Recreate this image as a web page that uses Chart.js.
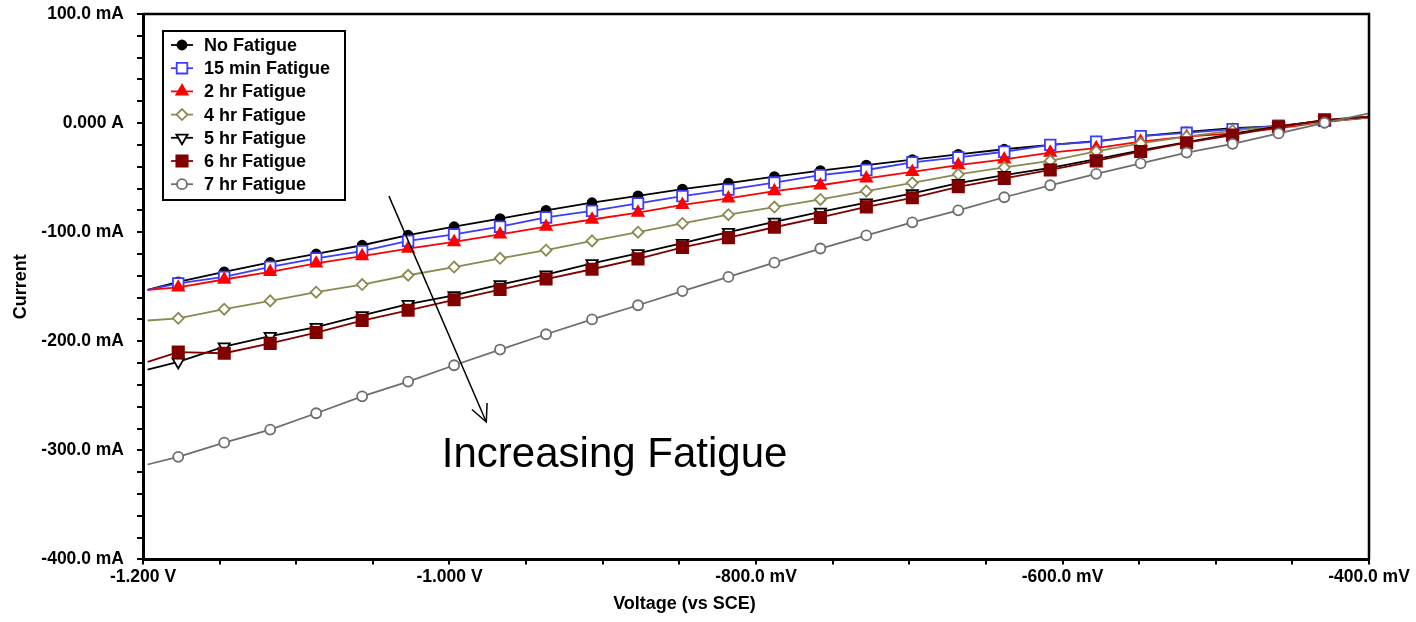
<!DOCTYPE html>
<html>
<head>
<meta charset="utf-8">
<script src="https://cdn.jsdelivr.net/npm/chart.js"></script>
<style>
  body { margin: 0; background: #fff; }
  #wrap { width: 1416px; height: 622px; }
</style>
</head>
<body>
<div id="wrap"><canvas id="chart" width="1416" height="622"></canvas></div>
<script>
// Voltage (V vs SCE) - first/last are the line ends, the rest carry markers
const volts = [-1.197, -1.177, -1.147, -1.117, -1.087, -1.057, -1.027, -0.997, -0.967, -0.937,
  -0.907, -0.877, -0.848, -0.818, -0.788, -0.758, -0.728, -0.698, -0.668, -0.638,
  -0.608, -0.578, -0.549, -0.519, -0.489, -0.459, -0.429, -0.400];

// Current in mA
const noFatigue = [-153, -145.6, -136.4, -127.8, -120, -112, -102.8, -95, -87.5, -80, -73, -66.7, -60.5, -55,
  -49, -43.5, -38.5, -33.5, -28.7, -24, -20, -16.5, -12, -8, -4.6, -2.8, 1.4, 5.5];
const min15Fatigue = [-153, -147, -141, -131.8, -124, -117.4, -108, -102, -95, -86.5, -80.5, -73.7, -67, -61,
  -54.5, -47.7, -43, -36, -31.5, -26.3, -20, -17, -12, -8.9, -5.5, -2.5, 2, 5];
const hr2Fatigue = [-153, -150.7, -143.4, -136.4, -128.7, -122, -115, -109, -102, -95, -88.4, -82, -75, -69,
  -62.4, -57, -50.7, -44.7, -38.5, -33.3, -27, -23, -17, -12.5, -9.5, -4.9, 1.2, 5];
const hr4Fatigue = [-181, -179, -170.6, -163, -155, -148, -139.5, -132, -124, -116.5, -108, -100, -92, -84,
  -77, -70, -62.4, -54.8, -47, -40.6, -34.6, -26, -18.6, -12.5, -7, -3, 1, 5.5];
const hr5Fatigue = [-226, -219, -205, -195.4, -187, -176.4, -166, -158, -148, -139, -128.7, -119.5, -110, -100,
  -90.5, -81.4, -73, -64.5, -55, -47.7, -41, -33, -25, -17.5, -10, -3, 2.5, 6];
const hr6Fatigue = [-219, -210, -211, -202, -192, -181, -171.6, -162, -152.6, -143, -134, -124.5, -114, -105,
  -95.5, -86.5, -76.8, -68.5, -58.4, -50.7, -43, -34.6, -26, -18, -11, -3.4, 3, 6];
const hr7Fatigue = [-313, -306, -293, -281, -266, -250.5, -237, -222, -207.6, -193.6, -180, -167, -154, -141,
  -128, -115, -103, -91, -80, -68, -57, -46.5, -37, -27, -19, -9.5, 0.3, 9];

const seriesLabels = ['No Fatigue', '15 min Fatigue', '2 hr Fatigue', '4 hr Fatigue', '5 hr Fatigue', '6 hr Fatigue', '7 hr Fatigue'];
const seriesValues = [noFatigue, min15Fatigue, hr2Fatigue, hr4Fatigue, hr5Fatigue, hr6Fatigue, hr7Fatigue];

const styles = [
  { color: '#000000', fill: '#000000', point: 'circle', radius: 4.5, rotation: 0 },
  { color: '#3c3cff', fill: '#ffffff', point: 'rect', radius: 7.5, rotation: 0 },
  { color: '#ff0000', fill: '#ff0000', point: 'triangle', radius: 6.5, rotation: 0 },
  { color: '#8a8a50', fill: '#ffffff', point: 'rectRot', radius: 5.5, rotation: 0 },
  { color: '#000000', fill: '#ffffff', point: 'triangle', radius: 6.5, rotation: 180 },
  { color: '#800000', fill: '#800000', point: 'rect', radius: 8, rotation: 0 },
  { color: '#6e6e6e', fill: '#ffffff', point: 'circle', radius: 5, rotation: 0 }
];

const FONT = '"Liberation Sans", Arial, sans-serif';
const lastIdx = volts.length - 1;

const datasets = seriesValues.map((vals, i) => ({
  label: seriesLabels[i],
  data: vals.map((v, j) => ({ x: volts[j], y: v })),
  borderColor: styles[i].color,
  backgroundColor: styles[i].fill,
  borderWidth: 1.8,
  pointStyle: styles[i].point,
  pointRotation: styles[i].rotation,
  pointBorderColor: styles[i].color,
  pointBackgroundColor: styles[i].fill,
  pointBorderWidth: 1.8,
  pointRadius: ctx => (ctx.dataIndex === 0 || ctx.dataIndex === lastIdx) ? 0 : styles[i].radius,
  tension: 0,
  order: 7 - i
}));

function drawMarker(ctx, st, x, y) {
  ctx.save();
  ctx.lineWidth = 1.8;
  ctx.strokeStyle = st.color;
  ctx.fillStyle = st.fill;
  ctx.beginPath();
  const r = st.radius;
  if (st.point === 'circle') {
    ctx.arc(x, y, r, 0, Math.PI * 2);
  } else if (st.point === 'rect') {
    const s = r * Math.SQRT1_2;
    ctx.rect(x - s, y - s, 2 * s, 2 * s);
  } else if (st.point === 'rectRot') {
    ctx.moveTo(x, y - r); ctx.lineTo(x + r, y); ctx.lineTo(x, y + r); ctx.lineTo(x - r, y); ctx.closePath();
  } else if (st.point === 'triangle') {
    const dir = st.rotation === 180 ? -1 : 1;
    const h = r * 1.5, half = r * Math.sqrt(3) / 2;
    ctx.moveTo(x, y - dir * r);
    ctx.lineTo(x - half, y + dir * (h - r));
    ctx.lineTo(x + half, y + dir * (h - r));
    ctx.closePath();
  }
  ctx.fill();
  ctx.stroke();
  ctx.restore();
}

const overlay = {
  id: 'overlay',
  afterDraw(chart) {
    const { ctx, chartArea: a, scales } = chart;
    ctx.save();
    // frame top/right
    ctx.strokeStyle = '#000';
    ctx.lineWidth = 2.5;
    ctx.beginPath();
    ctx.moveTo(a.left, a.top); ctx.lineTo(a.right, a.top); ctx.lineTo(a.right, a.bottom);
    ctx.stroke();

    // legend box
    const lx = a.left + 20, ly = a.top + 17, lw = 182, lh = 169;
    ctx.fillStyle = '#fff';
    ctx.fillRect(lx, ly, lw, lh);
    ctx.lineWidth = 2;
    ctx.strokeRect(lx, ly, lw, lh);
    ctx.font = 'bold 18px ' + FONT;
    ctx.textBaseline = 'middle';
    seriesLabels.forEach((lab, i) => {
      const y = ly + 14 + i * 23.2;
      ctx.strokeStyle = styles[i].color;
      ctx.lineWidth = 1.8;
      ctx.beginPath(); ctx.moveTo(lx + 8, y); ctx.lineTo(lx + 30, y); ctx.stroke();
      drawMarker(ctx, styles[i], lx + 19, y);
      ctx.fillStyle = '#000';
      ctx.fillText(lab, lx + 41, y + 1);
    });

    // arrow + annotation
    const x0 = scales.x.getPixelForValue(-1.0395), y0 = scales.y.getPixelForValue(-67);
    const x1 = scales.x.getPixelForValue(-0.976), y1 = scales.y.getPixelForValue(-274);
    ctx.strokeStyle = '#000';
    ctx.lineWidth = 1.5;
    ctx.beginPath(); ctx.moveTo(x0, y0); ctx.lineTo(x1, y1); ctx.stroke();
    const ang = Math.atan2(y1 - y0, x1 - x0);
    ctx.beginPath();
    ctx.moveTo(x1 - 19 * Math.cos(ang - 0.45), y1 - 19 * Math.sin(ang - 0.45));
    ctx.lineTo(x1, y1);
    ctx.lineTo(x1 - 19 * Math.cos(ang + 0.45), y1 - 19 * Math.sin(ang + 0.45));
    ctx.stroke();
    ctx.fillStyle = '#000';
    ctx.font = '42px ' + FONT;
    ctx.textBaseline = 'alphabetic';
    ctx.fillText('Increasing Fatigue', scales.x.getPixelForValue(-1.005), scales.y.getPixelForValue(-315.6));
    ctx.restore();
  }
};

new Chart(document.getElementById('chart'), {
  type: 'line',
  data: { datasets },
  plugins: [overlay],
  options: {
    responsive: false,
    animation: false,
    layout: { padding: { top: 14, right: 47, left: 0, bottom: 0 } },
    plugins: {
      legend: { display: false },
      tooltip: { enabled: false },
      title: {
        display: true,
        position: 'bottom',
        text: 'Voltage (vs SCE)',
        color: '#000',
        font: { family: FONT, size: 18, weight: 'bold' },
        padding: { top: 0, bottom: 7 }
      }
    },
    scales: {
      x: {
        type: 'linear',
        min: -1.2,
        max: -0.4,
        afterFit: s => { s.height = 34; },
        border: { color: '#000', width: 3 },
        grid: { drawOnChartArea: false, color: '#000', tickColor: '#000', tickLength: 5, lineWidth: 2 },
        ticks: {
          stepSize: 0.05,
          autoSkip: false,
          maxRotation: 0,
          padding: 2,
          color: '#000',
          font: { family: FONT, size: 17.5, weight: 'bold' },
          callback: v => {
            const mv = Math.round(v * 1000);
            if (mv % 200 !== 0) return '';
            if (Math.abs(mv) >= 1000) return (mv / 1000).toFixed(3) + ' V';
            return mv.toFixed(1) + ' mV';
          }
        }
      },
      y: {
        min: -400,
        max: 100,
        afterFit: s => { s.width = 143; s.paddingTop = 0; s.paddingBottom = 0; },
        border: { color: '#000', width: 3 },
        grid: { drawOnChartArea: false, color: '#000', tickColor: '#000', tickLength: 6, lineWidth: 2 },
        title: {
          display: true,
          text: 'Current',
          color: '#000',
          font: { family: FONT, size: 18, weight: 'bold' },
          padding: { top: 10, bottom: 0 }
        },
        ticks: {
          stepSize: 20,
          autoSkip: false,
          padding: 13,
          color: '#000',
          font: { family: FONT, size: 17.5, weight: 'bold' },
          callback: v => {
            const r = Math.round(v);
            if (r % 100 !== 0) return '';
            if (r === 0) return '0.000 A';
            return r.toFixed(1) + ' mA';
          }
        }
      }
    }
  }
});
</script>
</body>
</html>
